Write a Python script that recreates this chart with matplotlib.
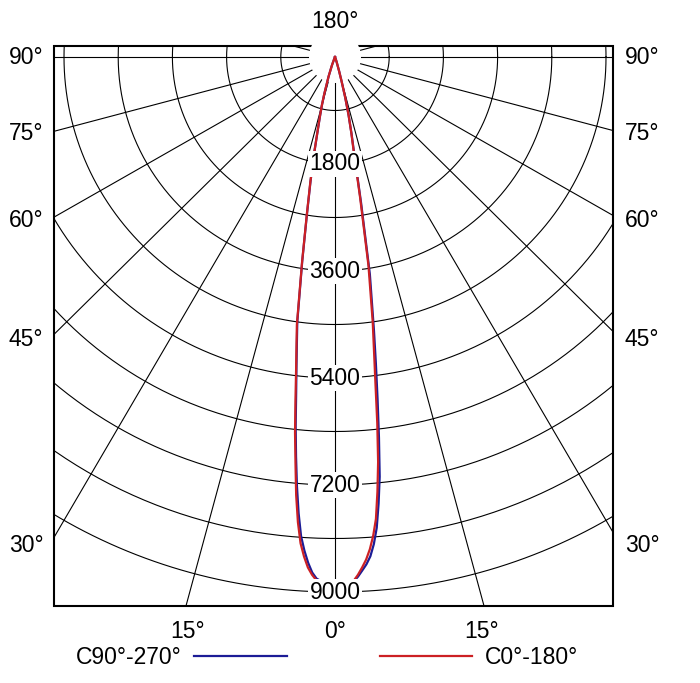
import numpy as np
import matplotlib
matplotlib.use("Agg")
import matplotlib.pyplot as plt
from matplotlib.patches import Rectangle, Ellipse
from matplotlib.lines import Line2D

plt.rcParams['font.family'] = ['Liberation Sans', 'DejaVu Sans']

# luminous intensity (cd) vs gamma angle
gamma = [0, 1, 2, 2.5, 3, 3.5, 4, 4.5, 5, 5.5, 6, 6.5, 7, 7.5, 8, 9, 10, 11, 12, 13, 14, 15, 16, 18, 20, 25, 30]
c0 = [8900, 8880, 8820, 8720, 8600, 8470, 8300, 8080, 7800, 7350, 6850, 6200, 5500, 4950, 4500,
      3550, 2400, 1650, 1300, 1000, 700, 420, 250, 90, 30, 0, 0]
c180 = [8900, 8870, 8810, 8720, 8600, 8420, 8200, 7850, 7400, 6850, 6350, 5800, 5300, 4900, 4550,
        3500, 2700, 2150, 1700, 1300, 1050, 850, 650, 350, 150, 20, 0]
c90 = [8900, 8880, 8830, 8750, 8650, 8550, 8420, 8220, 7950, 7550, 7100, 6450, 5800, 5200, 4650,
       3700, 2500, 1700, 1320, 1000, 700, 420, 250, 90, 30, 0, 0]
c270 = [8900, 8860, 8780, 8680, 8520, 8320, 8080, 7700, 7250, 6750, 6250, 5700, 5250, 4850, 4500,
        3480, 2680, 2130, 1690, 1290, 1040, 840, 640, 340, 150, 20, 0]

ring_step = 900
n_rings = 10
ring_labels = ["1800", "3600", "5400", "7200", "9000"]
side_labels = ["90°", "75°", "60°", "45°", "30°"]
side_angles = [90, 75, 60, 45, 30]
bottom_labels = ["15°", "0°", "15°"]
bottom_angles = [-15, 0, 15]
legend_names = ["C90°-270°", "C0°-180°"]
blue = "#1c1c96"
red = "#cc2024"

W, H = 700, 683
fig = plt.figure(figsize=(W / 100, H / 100), dpi=100)

# pixel layout of the plot box
bx0, bx1, by0, by1 = 53.5, 613, 46, 605.5
cx, cy = 335, 57
sx, sy = 900 / 54.2, 900 / 53.5   # cd per pixel

ax = fig.add_axes([bx0 / W, 1 - by1 / H, (bx1 - bx0) / W, (by1 - by0) / H])
ax.set_xlim((bx0 - cx) * sx, (bx1 - cx) * sx)
ax.set_ylim((by1 - cy) * sy, (by0 - cy) * sy)
ax.set_axis_off()


def to_xy(ang_deg, r):
    a = np.radians(np.asarray(ang_deg, dtype=float))
    r = np.asarray(r, dtype=float)
    return r * np.sin(a), r * np.cos(a)


# rings
t = np.linspace(0, 2 * np.pi, 721)
for k in range(1, n_rings + 1):
    r = k * ring_step
    ax.plot(r * np.cos(t), r * np.sin(t), color="black", lw=0.8, zorder=1)

# spokes every 15 degrees
r0 = 25 * sx
for a in range(-165, 181, 15):
    xs, ys = to_xy([a, a], [r0, 30000])
    ax.plot(xs, ys, color="black", lw=0.8, zorder=1)

# box and white disk round the centre
ax.add_patch(Rectangle((ax.get_xlim()[0], ax.get_ylim()[1]),
                       ax.get_xlim()[1] - ax.get_xlim()[0],
                       ax.get_ylim()[0] - ax.get_ylim()[1],
                       fill=False, ec="black", lw=1.5, zorder=1.5, clip_on=False))
ax.add_patch(Ellipse((0, 0), 2 * 26 * sx, 2 * 26 * sy, fc="white", ec="none",
                     zorder=2, clip_on=False))

# curves: left half negative angles
g = np.array(gamma)


def curve(left, right):
    ang = np.concatenate([-g[::-1], g[1:]])
    val = np.concatenate([np.array(left)[::-1], np.array(right)[1:]])
    return to_xy(ang, val)


xb, yb = curve(c270, c90)
ax.plot(xb, yb, color=blue, lw=1.6, zorder=3)
xr, yr = curve(c180, c0)
ax.plot(xr, yr, color=red, lw=1.6, zorder=3.1)

# ring labels
for i, lab in enumerate(ring_labels):
    ax.text(0, (i + 1) * 2 * ring_step, lab, ha="center", va="center",
            fontsize=16.5, zorder=4,
            bbox=dict(boxstyle="square,pad=0.06", fc="white", ec="none"))

fs = 16.5


def ftext(x, y, s, **kw):
    fig.text(x / W, 1 - y / H, s, fontsize=fs, va="center", **kw)


ftext(cx, 22, "180°", ha="center")
for lab, a in zip(side_labels, side_angles):
    dx = bx0 - cx
    y = cy + abs(dx) / np.tan(np.radians(a)) if a != 90 else cy
    ftext(26, y + 1, lab, ha="center")
    ftext(642, y + 1, lab, ha="center")
for lab, a in zip(bottom_labels, bottom_angles):
    x = cx + (by1 - cy) * np.tan(np.radians(a))
    ftext(x, 631, lab, ha="center")

# legend
ftext(129, 657, legend_names[0], ha="center")
fig.add_artist(Line2D([194 / W, 287 / W], [1 - 656 / H] * 2, color=blue, lw=1.6))
fig.add_artist(Line2D([380 / W, 472 / W], [1 - 656 / H] * 2, color=red, lw=1.6))
ftext(531, 657, legend_names[1], ha="center")

fig.savefig("out.png", dpi=100)
